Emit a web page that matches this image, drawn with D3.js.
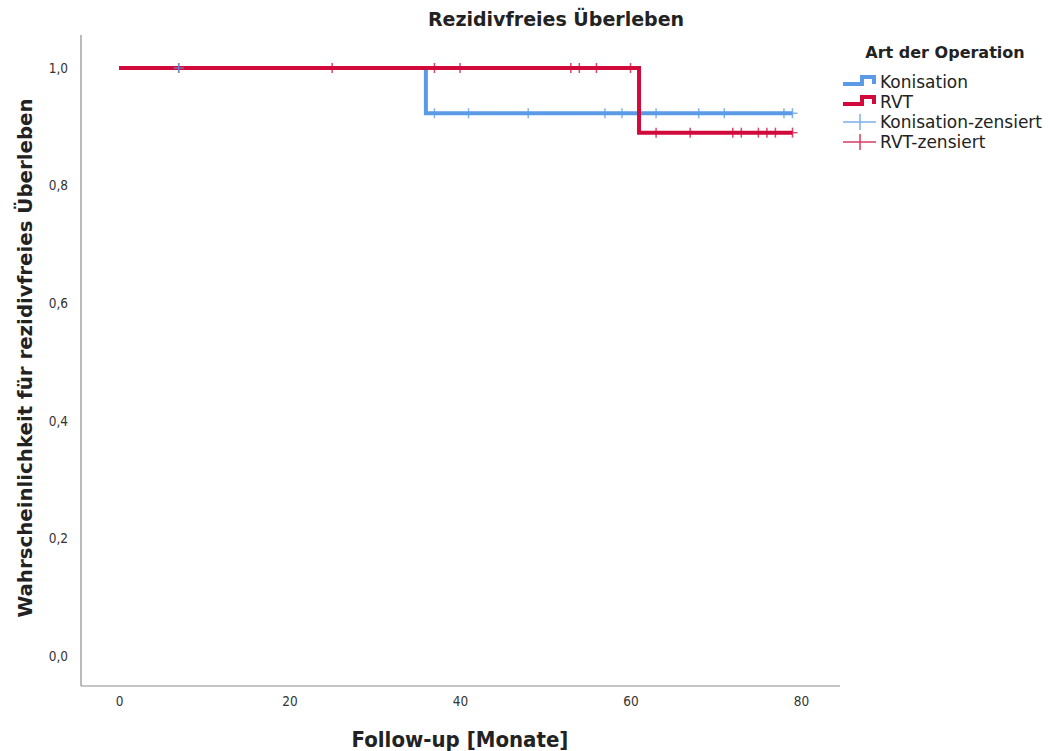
<!DOCTYPE html>
<html>
<head>
<meta charset="utf-8">
<script src="https://cdn.jsdelivr.net/npm/d3@7"></script>
<style>
  html, body { margin: 0; padding: 0; background: #fff; }
  svg { display: block; }
</style>
</head>
<body>
<svg id="chart" width="1054" height="751"></svg>
<script>
// Kaplan-Meier data: follow-up in months
const groups = ["Konisation", "RVT"];
const colors = ["#5b9be6", "#d20a3c"];
// step points: [time, survival]
const konisationSteps = [[0, 1.0], [36, 1.0], [36, 0.923], [79, 0.923]];
const rvtSteps = [[0, 1.0], [61, 1.0], [61, 0.890], [79, 0.890]];
// censored observations (months)
const konisationCensored = [7, 37, 41, 48, 57, 59, 63, 68, 71, 78, 79];
const rvtCensored = [7, 25, 37, 40, 53, 54, 56, 60, 63, 67, 72, 73, 75, 76, 77, 79];
const xTicks = [0, 20, 40, 60, 80];
const yTicks = [0, 0.2, 0.4, 0.6, 0.8, 1.0];

const svg = d3.select("#chart");

const x = d3.scaleLinear().domain([0, 80]).range([119, 801]);
const y = d3.scaleLinear().domain([0, 1]).range([655.8, 68]);

// survival at time t from a step list
function survAt(steps, t) {
  let s = steps[0][1];
  for (const [tt, v] of steps) { if (tt <= t) s = v; }
  return s;
}

// axes frame
const axisColor = "#8c8c8c";
svg.append("line").attr("x1", 81).attr("x2", 81).attr("y1", 35).attr("y2", 686)
  .attr("stroke", axisColor).attr("stroke-width", 1.2);
svg.append("line").attr("x1", 81).attr("x2", 840).attr("y1", 686).attr("y2", 686)
  .attr("stroke", axisColor).attr("stroke-width", 1.2);

const fmt = d => d3.format(".1f")(d).replace(".", ",");

// y tick labels
const yAxis = d3.axisLeft(y).tickValues(yTicks).tickFormat(fmt).tickSize(0).tickPadding(0);
const gy = svg.append("g").attr("transform", "translate(68,0)").call(yAxis);
gy.select(".domain").remove();
gy.selectAll("text").attr("font-family", "'DejaVu Sans Condensed', 'DejaVu Sans', sans-serif")
  .attr("font-size", 13.5).attr("fill", "#333");

// x tick labels
const xAxis = d3.axisBottom(x).tickValues(xTicks).tickFormat(d3.format("d")).tickSize(0).tickPadding(0);
const gx = svg.append("g").attr("transform", "translate(0,696)").call(xAxis);
gx.select(".domain").remove();
gx.selectAll("text").attr("font-family", "'DejaVu Sans Condensed', 'DejaVu Sans', sans-serif")
  .attr("font-size", 13.5).attr("fill", "#333");

// titles
svg.append("text").attr("x", 556).attr("y", 26).attr("text-anchor", "middle")
  .attr("font-family", "'DejaVu Sans', sans-serif").attr("font-weight", "bold")
  .attr("font-size", 19).attr("fill", "#222").text("Rezidivfreies Überleben");

svg.append("text").attr("x", 460).attr("y", 747).attr("text-anchor", "middle")
  .attr("font-family", "'DejaVu Sans Condensed', 'DejaVu Sans', sans-serif").attr("font-weight", "bold")
  .attr("font-size", 22).attr("fill", "#222").text("Follow-up [Monate]");

svg.append("text").attr("transform", "translate(32,358) rotate(-90)").attr("text-anchor", "middle")
  .attr("font-family", "'DejaVu Sans', sans-serif").attr("font-weight", "bold")
  .attr("font-size", 19.8).attr("fill", "#222").text("Wahrscheinlichkeit für rezidivfreies Überleben");

// survival curves
const line = d3.line().x(d => x(d[0])).y(d => y(d[1]));
const stepSets = [konisationSteps, rvtSteps];
stepSets.forEach((steps, i) => {
  svg.append("path").datum(steps).attr("d", line)
    .attr("fill", "none").attr("stroke", colors[i]).attr("stroke-width", 4)
    .attr("stroke-linejoin", "miter").attr("stroke-linecap", "butt");
});

// censor marks ("+")
const censSets = [konisationCensored, rvtCensored];
[1, 0].forEach(i => {
  const steps = stepSets[i];
  const g = svg.append("g").attr("stroke", colors[i]).attr("stroke-width", 1.5).attr("opacity", 0.75);
  censSets[i].forEach(t => {
    const cx = x(t), cy = y(survAt(steps, t));
    g.append("line").attr("x1", cx).attr("x2", cx).attr("y1", cy - 5).attr("y2", cy + 5);
    g.append("line").attr("x1", cx - 5).attr("x2", cx + 5).attr("y1", cy).attr("y2", cy);
  });
});

// legend
const lg = svg.append("g");
lg.append("text").attr("x", 945).attr("y", 58).attr("text-anchor", "middle")
  .attr("font-family", "'DejaVu Sans', sans-serif").attr("font-weight", "bold")
  .attr("font-size", 16).attr("fill", "#222").text("Art der Operation");

const legendRows = [
  { label: "Konisation", color: colors[0], kind: "step" },
  { label: "RVT", color: colors[1], kind: "step" },
  { label: "Konisation-zensiert", color: colors[0], kind: "cens" },
  { label: "RVT-zensiert", color: colors[1], kind: "cens" }
];
legendRows.forEach((r, k) => {
  const cy = 82 + k * 20;
  if (r.kind === "step") {
    lg.append("path")
      .attr("d", `M843,${cy + 2}H862V${cy - 5}H874V${cy + 2}`)
      .attr("fill", "none").attr("stroke", r.color).attr("stroke-width", 4);
  } else {
    const g = lg.append("g").attr("stroke", r.color).attr("stroke-width", 1.5).attr("opacity", 0.8);
    g.append("line").attr("x1", 843).attr("x2", 876).attr("y1", cy).attr("y2", cy);
    g.append("line").attr("x1", 860).attr("x2", 860).attr("y1", cy - 8).attr("y2", cy + 8);
  }
  lg.append("text").attr("x", 880).attr("y", cy + 6)
    .attr("font-family", "'DejaVu Sans', sans-serif").attr("font-size", 17)
    .attr("fill", "#222").text(r.label);
});
</script>
</body>
</html>
